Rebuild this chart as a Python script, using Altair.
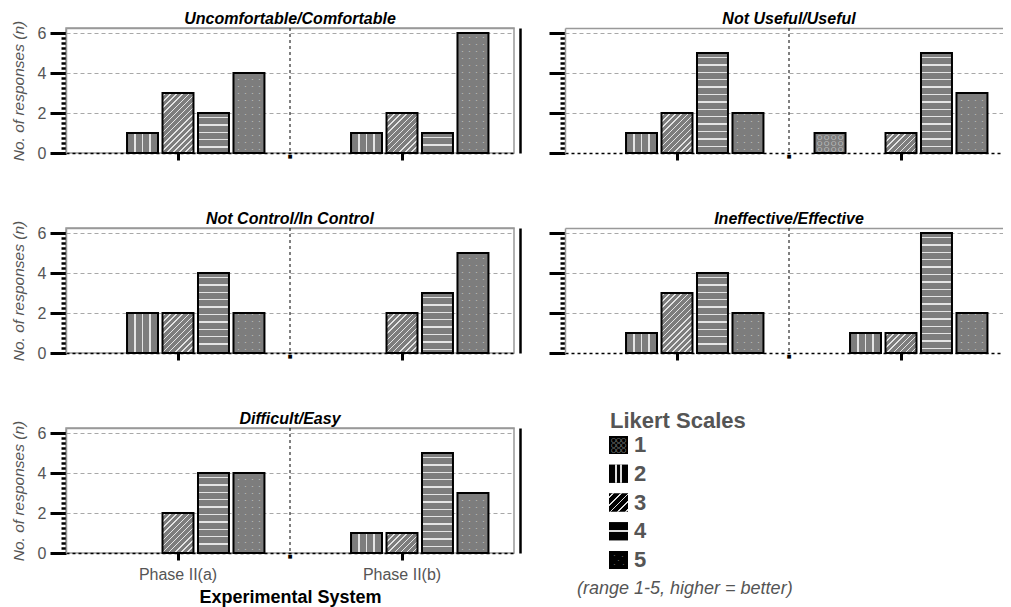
import math
import altair as alt
import pandas as pd

# ---------------- data ----------------
titles = ["Uncomfortable/Comfortable", "Not Useful/Useful", "Not Control/In Control",
          "Ineffective/Effective", "Difficult/Easy"]
phases = ["Phase II(a)", "Phase II(b)"]
likert = [1, 2, 3, 4, 5]
# number of responses for Likert levels 1..5
uncomf_a = [0, 1, 3, 2, 4]
uncomf_b = [0, 1, 2, 1, 6]
useful_a = [0, 1, 2, 5, 2]
useful_b = [1, 0, 1, 5, 3]
control_a = [0, 2, 2, 4, 2]
control_b = [0, 0, 2, 3, 5]
effective_a = [0, 1, 3, 4, 2]
effective_b = [0, 1, 1, 6, 2]
easy_a = [0, 0, 2, 4, 4]
easy_b = [0, 1, 1, 5, 3]
panel_values = [(uncomf_a, uncomf_b), (useful_a, useful_b), (control_a, control_b),
                (effective_a, effective_b), (easy_a, easy_b)]
x_title = "Experimental System"
y_title = "No. of responses (n)"
legend_title = "Likert Scales"
caption = "(range 1-5, higher = better)"

# ---------------- style ----------------
FONT = "Liberation Sans"
W = 448
H = 125
YMAX = 6.25
PX = H / YMAX
PI, PO = 0.127, 0.72
STEP = (W / 2) / (5 - PI + 2 * PO)
BW = STEP * (1 - PI)
GRAY = "#7d7d7d"
LINE = "#e4e4e4"
TXT = "#555555"


def grad(positions, hw, x1, y1, x2, y2, base, line):
    stops = [alt.GradientStop(offset=0, color=base)]
    for p in positions:
        a = max(0.0, p - hw)
        b = min(1.0, p + hw)
        stops += [alt.GradientStop(offset=a, color=base), alt.GradientStop(offset=a, color=line),
                  alt.GradientStop(offset=b, color=line), alt.GradientStop(offset=b, color=base)]
    stops.append(alt.GradientStop(offset=1, color=base))
    return alt.LinearGradient(gradient="linear", stops=stops, x1=x1, y1=y1, x2=x2, y2=y2)


def horizontal_fill(h, spacing, first, thick, base, line):
    pos = []
    p = first
    while p < h - 1.5:
        pos.append(p / h)
        p += spacing
    return grad(pos, thick / 2 / h, 0, 0, 0, 1, base, line)


def diagonal_fill(w, h, spacing, thick, base, line):
    L = (w + h) / math.sqrt(2)
    pos = []
    s = spacing / 2
    while s < L:
        pos.append(s / L)
        s += spacing
    d = w * w + h * h
    return grad(pos, thick / 2 / L, 0, 0, (w + h) * w / d, (w + h) * h / d, base, line)


VERT_FILL = grad([0.26, 0.5, 0.74], 0.025, 0, 0, 1, 0, GRAY, LINE)

MAJOR = "datum.value % 2 === 0"
TOP = "datum.value > 6.1"
ZERO = "datum.value === 0"


def y_axis(show):
    return alt.Axis(
        values=[i * 0.25 for i in range(26)],
        domain=True, domainColor="#999999", domainWidth=1.5,
        tickColor="black",
        tickSize={"condition": {"test": MAJOR, "value": 16}, "value": 5},
        tickWidth={"condition": {"test": MAJOR, "value": 3}, "value": 2.5},
        tickOpacity={"condition": {"test": TOP, "value": 0}, "value": 1},
        grid=True,
        gridColor={"condition": [{"test": ZERO, "value": "black"},
                                 {"test": TOP, "value": "#999999"},
                                 {"test": MAJOR, "value": "#a8a8a8"}],
                   "value": "transparent"},
        gridDash={"condition": [{"test": ZERO, "value": [3, 3]},
                                {"test": TOP, "value": [1, 0]}],
                  "value": [4, 3]},
        gridWidth={"condition": {"test": ZERO + " || " + TOP, "value": 1.5}, "value": 1},
        labels=show,
        labelExpr="datum.value % 2 === 0 ? format(datum.value, 'd') : ''",
        labelFontSize=16, labelColor=TXT, labelPadding=4, labelFlush=False,
        labelOverlap=False, labelFont=FONT,
        title=y_title if show else None,
        titleFontSize=15.5, titleFontStyle="italic", titleFontWeight="normal",
        titleColor=TXT, titlePadding=11, titleFont=FONT,
    )


def panel(idx, a_vals, b_vals):
    col, row = idx % 2, idx // 2
    left, bottom = col == 0, row == 2
    rows = []
    for ph, vals in zip(phases, [a_vals, b_vals]):
        for lv, n in zip(likert, vals):
            rows.append({"phase": ph, "likert": lv, "n": n})
    df = pd.DataFrame(rows)
    base = alt.Chart(df)
    bars = base.transform_filter("datum.n > 0")

    x_axis = alt.Axis(labels=bottom, title=x_title if bottom else None, tickSize=7, tickWidth=3,
                      tickColor="black", domain=False,
                      labelFontSize=16, labelColor=TXT, labelPadding=6.5, labelAngle=0,
                      labelFont=FONT, titleFont=FONT,
                      titleFontSize=18, titleFontWeight="bold", titleColor="black",
                      titlePadding=6, grid=False, zindex=1)
    xsc = alt.Scale(domain=phases, paddingInner=0, paddingOuter=0)
    x = alt.X("phase:N", scale=xsc, axis=x_axis)
    x_edge = alt.X("phase:N", bandPosition=0, scale=xsc, axis=x_axis)
    xo = alt.XOffset("likert:N", scale=alt.Scale(domain=likert, paddingInner=PI, paddingOuter=PO))
    ysc = alt.Scale(domain=[0, YMAX], nice=False, zero=True)
    y_main = alt.Y("n:Q", scale=ysc, axis=y_axis(left))
    y_none = alt.Y("n:Q", scale=ysc, axis=None)

    layers = [bars.mark_bar(fill=GRAY, strokeWidth=0).encode(x=x, xOffset=xo, y=y_main)]
    # vertical stripes (2)
    layers.append(bars.transform_filter("datum.likert == 2")
                  .mark_bar(fill=VERT_FILL, strokeWidth=0).encode(x=x, xOffset=xo, y=y_none))
    # horizontal stripes (4)
    v4 = sorted({v for v in (a_vals[3], b_vals[3]) if v > 0})
    for v in v4:
        layers.append(bars.transform_filter(f"datum.likert == 4 && datum.n == {v}")
                      .mark_bar(fill=horizontal_fill(v * PX, 7.4, 4.5, 1.5, GRAY, LINE), strokeWidth=0)
                      .encode(x=x, xOffset=xo, y=y_none))
    # diagonal stripes (3)
    v3 = sorted({v for v in (a_vals[2], b_vals[2]) if v > 0})
    for v in v3:
        layers.append(bars.transform_filter(f"datum.likert == 3 && datum.n == {v}")
                      .mark_bar(fill=diagonal_fill(BW, v * PX, 4.3, 1.2, GRAY, LINE), strokeWidth=0)
                      .encode(x=x, xOffset=xo, y=y_none))
    # rings (1)
    if a_vals[0] > 0 or b_vals[0] > 0:
        for dx in (-10.5, -3.5, 3.5, 10.5):
            layers.append(bars.transform_filter("datum.likert == 1")
                          .transform_calculate(ys="sequence(0.2, datum.n, 0.3)")
                          .transform_flatten(["ys"])
                          .mark_text(text="○", font="DejaVu Sans", fontSize=6, color="#eeeeee",
                                     dx=dx, baseline="middle")
                          .encode(x=x, xOffset=xo, y=alt.Y("ys:Q", scale=ysc, axis=None)))
    # dots (5)
    for dx in (-10.5, -3.5, 3.5, 10.5):
        layers.append(bars.transform_filter("datum.likert == 5")
                      .transform_calculate(ys="sequence(0.17, datum.n - 0.05, 0.35)")
                      .transform_flatten(["ys"])
                      .mark_text(text="•", fontSize=4, color="#c8c8c8", dx=dx, baseline="middle")
                      .encode(x=x, xOffset=xo, y=alt.Y("ys:Q", scale=ysc, axis=None)))
    # outlines (+ black line right of left column panels)
    if left:
        y_out = alt.Y("n:Q", scale=ysc, axis=alt.Axis(orient="right", domain=True, domainColor="black",
                                                   domainWidth=2.5, ticks=False, labels=False,
                                                   grid=False, title=None, offset=6))
    else:
        y_out = y_none
    layers.append(bars.mark_bar(fillOpacity=0, stroke="black", strokeWidth=2)
                  .encode(x=x, xOffset=xo, y=y_out))
    # divider between the two systems, with its small tick on the baseline
    divider = base.transform_filter(f"datum.likert == 1 && datum.phase == '{phases[1]}'")
    layers.append(divider.mark_rule(color="black", strokeDash=[3, 3], strokeWidth=1)
                  .encode(x=x_edge))
    layers.append(divider.transform_calculate(zero="0")
                  .mark_text(text="■", font="DejaVu Sans", fontSize=5, dy=3, color="black",
                             baseline="middle")
                  .encode(x=x_edge, y=alt.Y("zero:Q", scale=ysc, axis=None)))
    # panel title
    layers.append(alt.Chart(pd.DataFrame({"t": [titles[idx]]}))
                  .mark_text(fontSize=16, fontStyle="italic", fontWeight="bold", color="black",
                             baseline="alphabetic", align="center", font=FONT)
                  .encode(x=alt.value(W / 2), y=alt.value(-4), text="t:N"))

    return alt.layer(*layers).properties(
        width=W, height=H,
        view=alt.ViewBackground(stroke="#999999" if left else "transparent", strokeWidth=1.5),
    ).resolve_axis(y="independent")


panels = [panel(i, a, b) for i, (a, b) in enumerate(panel_values)]

# ---------------- legend ----------------
ldf = pd.DataFrame({"likert": likert})
lbase = alt.Chart(ldf)
ly = alt.Y("likert:N", scale=alt.Scale(domain=likert, paddingInner=0.374, paddingOuter=0.278), axis=None)
SW_X, SW_X2 = 44, 63
leg = [lbase.mark_rect(fill="black").encode(y=ly, x=alt.value(SW_X), x2=alt.value(SW_X2))]
leg.append(lbase.transform_filter("datum.likert == 2")
           .mark_rect(fill=grad([0.36, 0.64], 0.045, 0, 0, 1, 0, "black", "#dddddd"))
           .encode(y=ly, x=alt.value(SW_X), x2=alt.value(SW_X2)))
leg.append(lbase.transform_filter("datum.likert == 3")
           .mark_rect(fill=diagonal_fill(19, 18, 5.5, 1.3, "black", "#dddddd"))
           .encode(y=ly, x=alt.value(SW_X), x2=alt.value(SW_X2)))
leg.append(lbase.transform_filter("datum.likert == 4")
           .mark_rect(fill=grad([0.5], 0.05, 0, 0, 0, 1, "black", "#dddddd"))
           .encode(y=ly, x=alt.value(SW_X), x2=alt.value(SW_X2)))
for dx in (-5, 0, 5):
    for dy in (-5, 0, 5):
        leg.append(lbase.transform_filter("datum.likert == 1")
                   .mark_text(text="○", font="DejaVu Sans", fontSize=6, color="#cfcfcf",
                              dx=dx, dy=dy, baseline="middle")
                   .encode(y=ly, x=alt.value((SW_X + SW_X2) / 2)))
for dx, dy in ((-4, -4), (4, -3), (0, 1), (-4, 5), (5, 5)):
    leg.append(lbase.transform_filter("datum.likert == 5")
               .mark_text(text="•", fontSize=4, color="#777777", dx=dx, dy=dy, baseline="middle")
               .encode(y=ly, x=alt.value((SW_X + SW_X2) / 2)))
leg.append(lbase.mark_text(align="left", baseline="middle", fontSize=22, fontWeight="bold",
                           color=TXT, font=FONT)
           .encode(y=ly, x=alt.value(69), text="likert:N"))
leg.append(alt.Chart(pd.DataFrame({"caption": [caption]}))
           .mark_text(align="left", baseline="middle", fontSize=18, fontStyle="italic",
                      color=TXT, font=FONT)
           .encode(x=alt.value(12), y=alt.value(161), text="caption:N"))
leg.append(alt.Chart(pd.DataFrame({"t": [legend_title]}))
           .mark_text(align="left", baseline="alphabetic", fontSize=22, fontWeight="bold",
                      color=TXT, font=FONT)
           .encode(x=alt.value(45), y=alt.value(0), text="t:N"))

legend = alt.layer(*leg).properties(
    width=240, height=149,
    view=alt.ViewBackground(stroke="transparent"),
)

# fixed canvas: origin of the first panel at (58, 20), canvas 995 x 600
chart = alt.concat(
    *panels, legend, columns=2,
    spacing=alt.RowColnumber(row=75, column=51), bounds="flush",
).properties(
    autosize=alt.AutoSizeParams(type="none"),
    padding={"left": 58, "top": 20, "right": 937, "bottom": 580},
).configure(font=FONT)

chart.save("out.html", embed_options={"renderer": "svg", "actions": False})
